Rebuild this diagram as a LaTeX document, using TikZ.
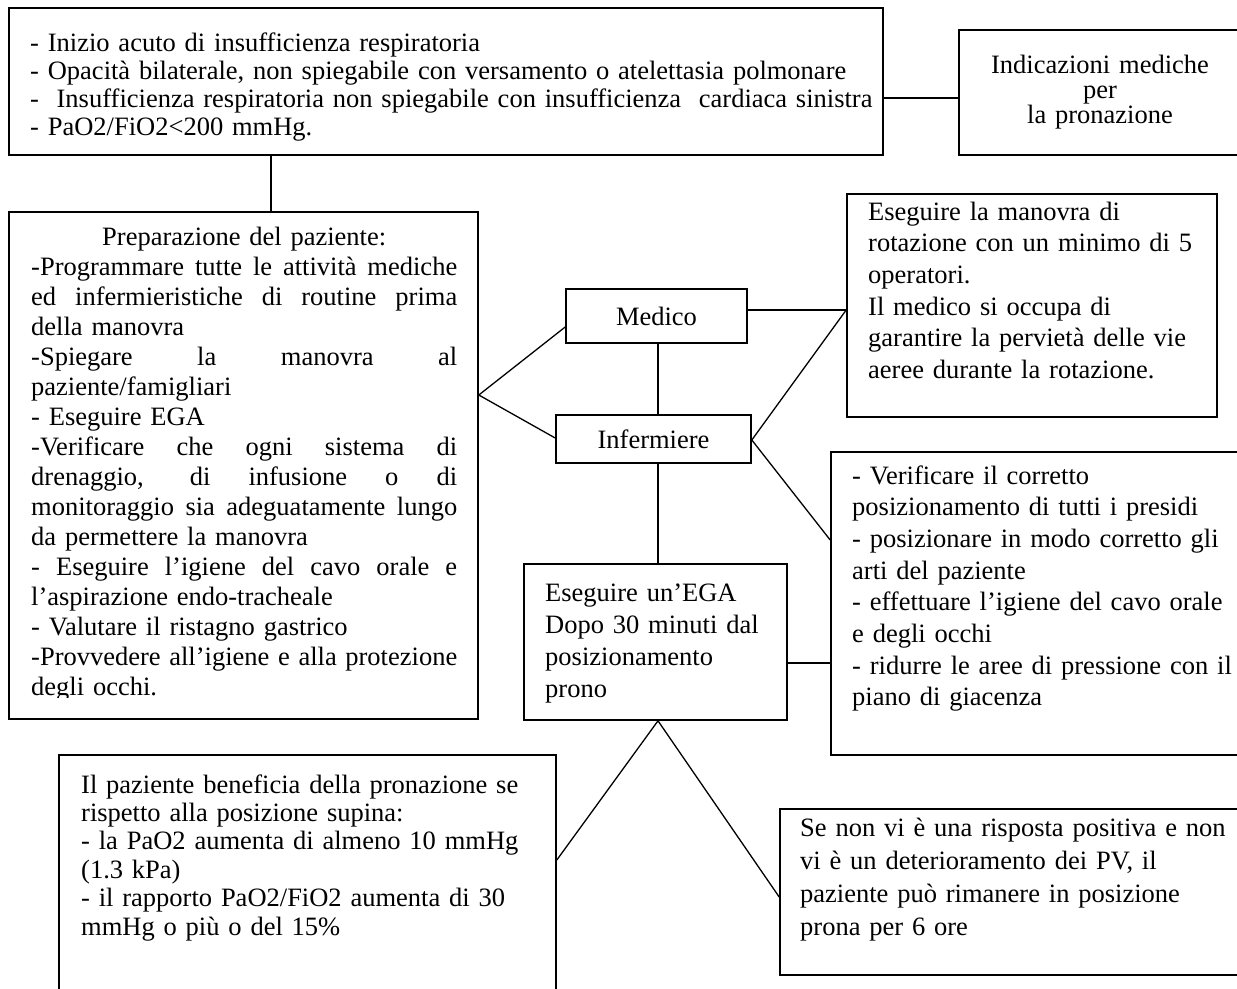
\documentclass[tikz,border=0pt]{standalone}
\usepackage{fontspec}
\setmainfont{Liberation Serif}
\newcommand{\jl}[1]{\leavevmode\hbox to 426pt{\spaceskip=\fontdimen2\font plus 1fil\relax #1}}
\begin{document}
\begin{tikzpicture}[x=1pt,y=-1pt,
  box/.style={draw, line width=1.6pt, inner sep=0pt},
  conn/.style={line width=1.3pt},
  txt/.style={inner sep=0pt, anchor=base west, align=left},
  fs/.style={font=\fontsize{26.5}{#1}\selectfont}]
\useasboundingbox (0,0) rectangle (1237,988);
\clip (0,0) rectangle (1237,988);

% boxes
\node[box, minimum width=874pt, minimum height=147pt] (top) at (446,81.5) {};
\node[box, minimum width=321pt, minimum height=125pt] (ind) at (1119.5,92.5) {};
\node[box, minimum width=469pt, minimum height=507pt] (prep) at (243.5,465.5) {};
\node[box, minimum width=181pt, minimum height=54pt, fs=30] (med) at (656.5,316) {Medico};
\node[box, minimum width=195pt, minimum height=48pt, fs=30] (inf) at (653.5,439) {Infermiere};
\node[box, minimum width=370pt, minimum height=223pt] (rb1) at (1032,305.5) {};
\node[box, minimum width=429pt, minimum height=303pt] (rb2) at (1045.5,603.5) {};
\node[box, minimum width=263pt, minimum height=156pt] (ega) at (655.5,642) {};
\node[box, minimum width=497pt, minimum height=260pt] (bl) at (307.5,885) {};
\node[box, minimum width=480pt, minimum height=166pt] (br) at (1020,892) {};

% texts
\node[txt, text width=900pt, fs=28.3] (toptxt) at (30,51) {- Inizio acuto di insufficienza respiratoria\\- Opacità bilaterale, non spiegabile con versamento o atelettasia polmonare\\-\ \ Insufficienza respiratoria non spiegabile con insufficienza\ \ cardiaca sinistra\\- PaO2/FiO2<200 mmHg.};

\node[inner sep=0pt, anchor=base, text width=300pt, align=center, fs=25] (indtxt) at (1100,73) {Indicazioni mediche\\per\\la pronazione};

\begin{scope}
\clip (9,212) rectangle (478,697);
\node[txt, text width=426pt, fs=30] (preptxt) at (31,245.5) {%
\leavevmode\hbox to 426pt{\hfil Preparazione del paziente:\hfil}\\
\jl{-Programmare tutte le attività mediche}\\
\jl{ed infermieristiche di routine prima}\\
della manovra\\
\jl{-Spiegare la manovra al}\\
paziente/famigliari\\
- Eseguire EGA\\
\jl{-Verificare che ogni sistema di}\\
\jl{drenaggio, di infusione o di}\\
\jl{monitoraggio sia adeguatamente lungo}\\
da permettere la manovra\\
\jl{- Eseguire l’igiene del cavo orale e}\\
l’aspirazione endo-tracheale\\
- Valutare il ristagno gastrico\\
\jl{-Provvedere all’igiene e alla protezione}\\
degli occhi.};
\end{scope}

\node[txt, text width=360pt, fs=31.7] (rb1txt) at (868,220) {Eseguire la manovra di\\rotazione con un minimo di 5\\operatori.\\Il medico si occupa di\\garantire la pervietà delle vie\\aeree durante la rotazione.};

\node[txt, text width=400pt, fs=31.7] (rb2txt) at (852,484) {- Verificare il corretto\\posizionamento di tutti i presidi\\- posizionare in modo corretto gli\\arti del paziente\\- effettuare l’igiene del cavo orale\\e degli occhi\\- ridurre le aree di pressione con il\\piano di giacenza};

\node[txt, text width=240pt, fs=32.3] (egatxt) at (545,601) {Eseguire un’EGA\\Dopo 30 minuti dal\\posizionamento\\prono};

\node[txt, text width=470pt, fs=28.4] (bltxt) at (81,793) {Il paziente beneficia della pronazione se\\rispetto alla posizione supina:\\- la PaO2 aumenta di almeno 10 mmHg\\(1.3 kPa)\\- il rapporto PaO2/FiO2 aumenta di 30\\mmHg o più o del 15\%};

\node[txt, text width=450pt, fs=33] (brtxt) at (800,836) {Se non vi è una risposta positiva e non\\vi è un deterioramento dei PV, il\\paziente può rimanere in posizione\\prona per 6 ore};

% connectors
\draw[conn] (top.east |- 0,98) -- (ind.west |- 0,98);
\draw[conn] (271,0 |- top.south) -- (271,0 |- prep.north);
\draw[conn] (prep.east |- 0,395) -- (med.west |- 0,327);
\draw[conn] (prep.east |- 0,395) -- (inf.west |- 0,438);
\draw[conn] (658,0 |- med.south) -- (658,0 |- inf.north);
\draw[conn] (med.east |- 0,310) -- (rb1.west |- 0,310);
\draw[conn] (rb1.west |- 0,310) -- (inf.east |- 0,440);
\draw[conn] (inf.east |- 0,440) -- (rb2.west |- 0,540);
\draw[conn] (658,0 |- inf.south) -- (658,0 |- ega.north);
\draw[conn] (ega.east |- 0,663) -- (rb2.west |- 0,663);
\draw[conn] (658,0 |- ega.south) -- (bl.east |- 0,860);
\draw[conn] (658,0 |- ega.south) -- (br.west |- 0,897);
\end{tikzpicture}
\end{document}
